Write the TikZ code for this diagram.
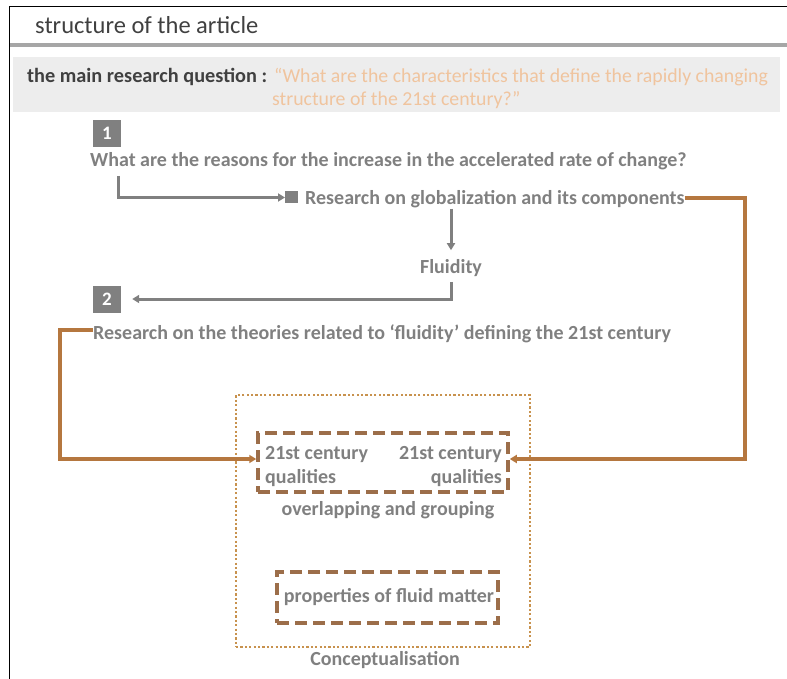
\documentclass[tikz,border=0pt]{standalone}
\usepackage{fontspec}
\setmainfont{Carlito}
\usetikzlibrary{arrows.meta}
\definecolor{txtgray}{HTML}{808080}
\definecolor{darktxt}{HTML}{404040}
\definecolor{band}{HTML}{EDEDED}
\definecolor{qorange}{HTML}{F0C49E}
\definecolor{conn}{HTML}{B5773F}
\definecolor{dashc}{HTML}{9C6E4A}
\definecolor{dotc}{HTML}{C8924E}
\begin{document}
\begin{tikzpicture}[x=1pt,y=-1pt,
  lbl/.style={inner sep=0pt, text=txtgray, font=\fontsize{20}{24}\selectfont\bfseries},
  numbox/.style={fill=txtgray, text=white, minimum width=28pt, minimum height=27pt, inner sep=0pt, font=\fontsize{19}{22}\selectfont\bfseries},
  garrow/.style={draw=txtgray, line width=3pt, -{Triangle[length=7pt,width=8pt]}},
  oline/.style={draw=conn, line width=3.2pt},
  oarrow/.style={oline, -{Triangle[length=7pt,width=8pt]}},
  dbox/.style={draw=dashc, line width=3.5pt, dash pattern=on 12pt off 6pt},
  dotbox/.style={draw=dotc, line width=2.5pt, dash pattern=on 2.2pt off 2.2pt}]
\useasboundingbox (0,0) rectangle (787,679);
% frame
\draw[black, line width=1.3pt] (9.5,679) -- (9.5,6.5) -- (787,6.5);
\node[anchor=base west, inner sep=0pt, text=darktxt, font=\fontsize{24.5}{28}\selectfont] (title) at (35,34) {structure of the article};
\draw[line width=3.5pt, color=black!35] (10,45) -- (787,45);
\fill[band] (13,57) rectangle (780,112);
\node[anchor=base west, inner sep=0pt, text=darktxt, font=\fontsize{20.3}{24}\selectfont\bfseries] (mrq) at (27,83) {the main research question :};
\node[anchor=base west, inner sep=0pt, text=qorange, font=\fontsize{19.8}{24}\selectfont] (q1) at (274,83) {“What are the characteristics that define the rapidly changing};
\node[anchor=base west, inner sep=0pt, text=qorange, font=\fontsize{19.8}{24}\selectfont] (q2) at (272,106) {structure of the 21st century?”};
% step 1
\node[numbox] (n1) at (107,133.5) {1};
\node[lbl, anchor=base west] (why) at (90,167) {What are the reasons for the increase in the accelerated rate of change?};
\node[lbl, anchor=base west] (glob) at (305,205) {Research on globalization and its components};
\node[fill=txtgray, minimum width=13pt, minimum height=12pt, inner sep=0pt, anchor=west] (sq) at (285,197.5) {};
\coordinate (c1) at (118,176);
\draw[garrow] (c1) |- (sq.west);
\node[lbl, inner ysep=5pt] (flu) at (451,268) {Fluidity};
\draw[garrow, shorten >=4pt] (flu.north |- glob.south) -- (flu.north);
% step 2
\node[numbox] (n2) at (107,299) {2};
\draw[garrow, shorten >=11pt] (flu.south) -- (flu.south |- n2.east) -- (n2.east);
\node[lbl, anchor=base west] (theo) at (93,339) {Research on the theories related to ‘fluidity’ defining the 21st century};
% conceptual boxes
\node[dotbox, minimum width=294pt, minimum height=252pt, inner sep=0pt] (concept) at (383,521) {};
\node[dbox, minimum width=250pt, minimum height=59pt, inner sep=0pt] (qual) at (383,462.5) {};
\node[lbl, anchor=base west] (ql1) at (265,459) {21st century};
\node[lbl, anchor=base west] (ql2) at (265,483) {qualities};
\node[lbl, anchor=base east] (qr1) at (502,459) {21st century};
\node[lbl, anchor=base east] (qr2) at (502,483) {qualities};
\node[lbl] (ovl) at (388,510) {overlapping and grouping};
\node[dbox, minimum width=221pt, minimum height=51pt, inner sep=0pt] (fluid) at (387.5,597.5) {};
\node[lbl] (prop) at (389,597) {properties of fluid matter};
\node[lbl] (conc) at (385,660) {Conceptualisation};
% orange connectors
\coordinate (oR) at (745,198);
\draw[oarrow] (glob.east |- 0,198) -- (oR) |- (qual.east |- 0,459);
\coordinate (oL) at (60,330);
\draw[oarrow] (theo.west |- 0,330) -- (oL) |- (qual.west |- 0,459);
\end{tikzpicture}
\end{document}
